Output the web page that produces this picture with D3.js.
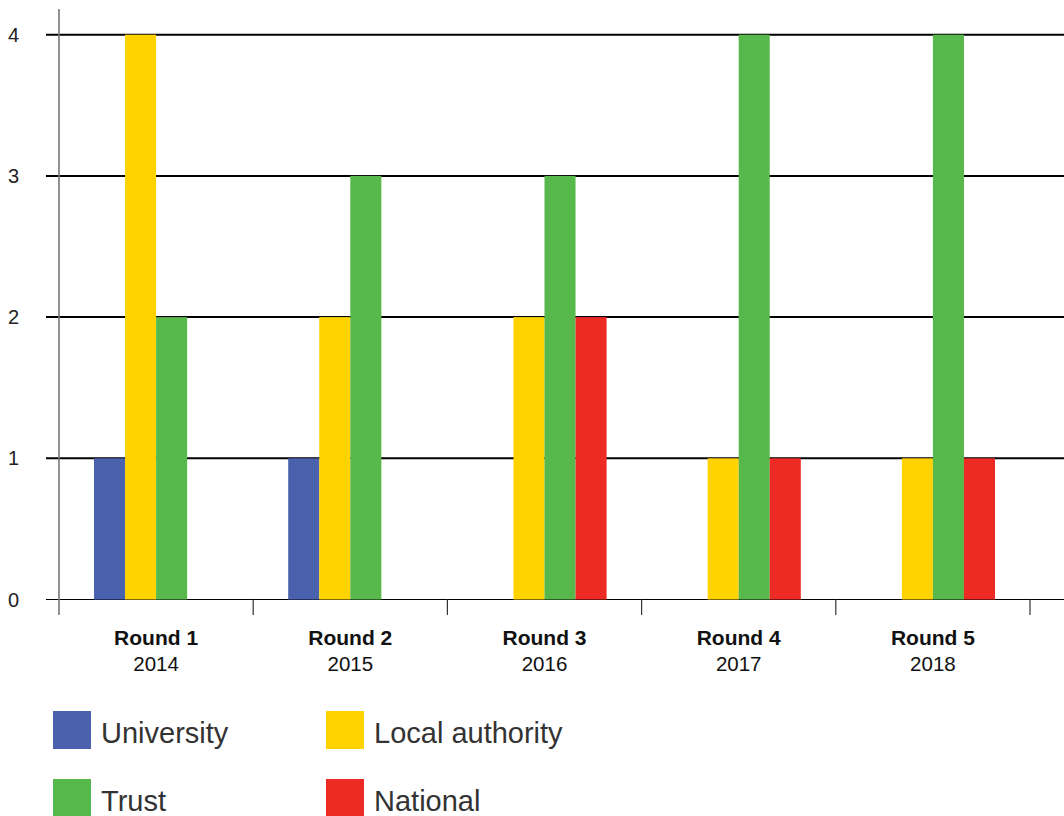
<!DOCTYPE html>
<html>
<head>
<meta charset="utf-8">
<script src="https://cdn.jsdelivr.net/npm/d3@7"></script>
<style>
  body { margin: 0; background: #fff; }
  svg { display: block; font-family: "Liberation Sans", Arial, Helvetica, sans-serif; }
</style>
</head>
<body>
<div id="chart"></div>
<script>
// chart data
var rounds = ["Round 1", "Round 2", "Round 3", "Round 4", "Round 5"];
var years = ["2014", "2015", "2016", "2017", "2018"];
var seriesNames = ["University", "Local authority", "Trust", "National"];
var university = [1, 1, 0, 0, 0];
var localAuthority = [4, 2, 2, 1, 1];
var trust = [2, 3, 3, 4, 4];
var national = [0, 0, 2, 1, 1];
var yTicks = [0, 1, 2, 3, 4];
var colors = ["#4a62ae", "#ffd200", "#57b84b", "#ee2a24"];

var values = [university, localAuthority, trust, national];

var width = 1064, height = 816;

var svg = d3.select("#chart").append("svg")
    .attr("width", width)
    .attr("height", height);

var x0 = d3.scaleBand()
    .domain(rounds)
    .range([59, 1030]);

var x1 = d3.scaleBand()
    .domain(seriesNames)
    .range([35, x0.bandwidth() - 35]);

var y = d3.scaleLinear()
    .domain([0, 4])
    .range([599.5, 34.7]);

var color = d3.scaleOrdinal().domain(seriesNames).range(colors);

// gridlines
svg.append("g")
    .selectAll("line")
    .data(yTicks.filter(function(d) { return d > 0; }))
    .enter().append("line")
    .attr("x1", 46).attr("x2", width)
    .attr("y1", function(d) { return y(d); })
    .attr("y2", function(d) { return y(d); })
    .attr("stroke", "#000")
    .attr("stroke-width", 2);

// zero line
svg.append("line")
    .attr("x1", 46).attr("x2", width)
    .attr("y1", y(0)).attr("y2", y(0))
    .attr("stroke", "#000")
    .attr("stroke-width", 1.2);

// y axis line
svg.append("line")
    .attr("x1", 59).attr("x2", 59)
    .attr("y1", 9).attr("y2", 615)
    .attr("stroke", "#777")
    .attr("stroke-width", 1.6);

// band separator ticks
var sepX = rounds.map(function(r) { return x0(r); }).concat([x0.range()[1]]);
svg.append("g")
    .selectAll("line")
    .data(sepX.slice(1))
    .enter().append("line")
    .attr("x1", function(d) { return d; })
    .attr("x2", function(d) { return d; })
    .attr("y1", y(0)).attr("y2", 615)
    .attr("stroke", "#333")
    .attr("stroke-width", 1.2);

// y tick labels
svg.append("g")
    .selectAll("text")
    .data(yTicks)
    .enter().append("text")
    .attr("x", 8)
    .attr("y", function(d) { return y(d); })
    .attr("dy", "0.35em")
    .attr("font-size", 20)
    .attr("fill", "#222")
    .text(function(d) { return d; });

// bars
var groups = svg.append("g")
    .selectAll("g")
    .data(rounds)
    .enter().append("g")
    .attr("transform", function(d) { return "translate(" + x0(d) + ",0)"; });

groups.selectAll("rect")
    .data(function(d, i) {
        return seriesNames.map(function(s, j) { return { key: s, value: values[j][i] }; });
    })
    .enter().append("rect")
    .attr("x", function(d) { return x1(d.key); })
    .attr("width", x1.bandwidth())
    .attr("y", function(d) { return y(d.value); })
    .attr("height", function(d) { return y(0) - y(d.value); })
    .attr("fill", function(d) { return color(d.key); });

// category labels
var labels = svg.append("g")
    .selectAll("g")
    .data(rounds)
    .enter().append("g")
    .attr("transform", function(d) { return "translate(" + (x0(d) + x0.bandwidth() / 2) + ",0)"; });

labels.append("text")
    .attr("y", 645)
    .attr("text-anchor", "middle")
    .attr("font-size", 21)
    .attr("font-weight", "bold")
    .attr("fill", "#111")
    .text(function(d) { return d; });

labels.append("text")
    .attr("y", 671)
    .attr("text-anchor", "middle")
    .attr("font-size", 20.5)
    .attr("fill", "#111")
    .text(function(d, i) { return years[i]; });

// legend
var legendPos = [[53, 711], [326, 711], [53, 779], [326, 779]];
var legend = svg.append("g")
    .selectAll("g")
    .data(seriesNames)
    .enter().append("g")
    .attr("transform", function(d, i) { return "translate(" + legendPos[i][0] + "," + legendPos[i][1] + ")"; });

legend.append("rect")
    .attr("width", 38)
    .attr("height", 38)
    .attr("fill", function(d) { return color(d); });

legend.append("text")
    .attr("x", 48)
    .attr("y", 32)
    .attr("font-size", 29)
    .attr("fill", "#333")
    .text(function(d) { return d; });
</script>
</body>
</html>
